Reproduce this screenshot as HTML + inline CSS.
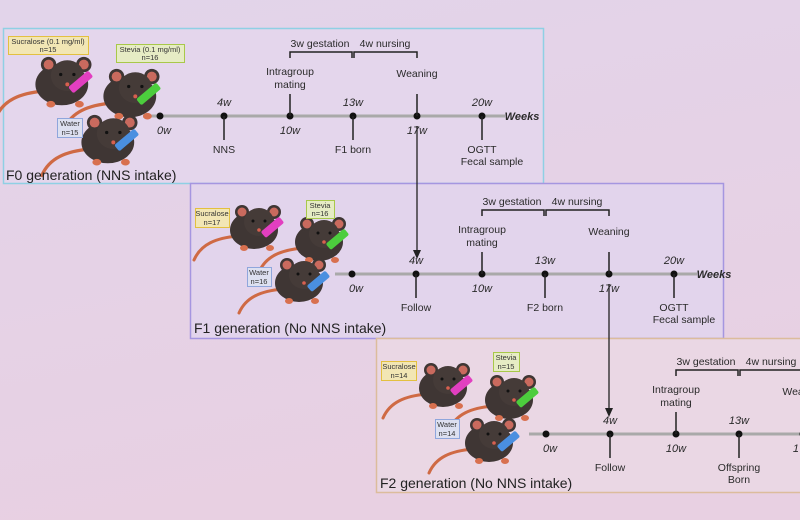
<!DOCTYPE html>
<html><head><meta charset="utf-8"><style>
html,body{margin:0;padding:0;width:800px;height:520px;overflow:hidden}
svg{display:block}
text{font-family:"Liberation Sans",sans-serif;fill:#2a2a2a}
.it{font-style:italic;font-size:11px}
.lb{font-size:10.5px}
.ti{font-size:14px;fill:#222}
.bx{font-size:7.5px;fill:#333}
</style></head><body>
<svg width="800" height="520" viewBox="0 0 800 520" xmlns="http://www.w3.org/2000/svg">
<defs>
<linearGradient id="bg" x1="0" y1="0" x2="0.3" y2="1">
<stop offset="0" stop-color="#e2d4ea"/><stop offset="1" stop-color="#e8d0e2"/>
</linearGradient>
<g id="mouse">
<path d="M-18,10 C-40,12 -55,18 -62,34" stroke="#cf6a44" stroke-width="3" fill="none" stroke-linecap="round"/>
<ellipse cx="-2" cy="4" rx="24" ry="19" fill="#3f3634"/>
<ellipse cx="-12" cy="22" rx="4" ry="3" fill="#d8704f"/>
<ellipse cx="14" cy="22" rx="4" ry="3" fill="#d8704f"/>
<circle cx="-14" cy="-14" r="7" fill="#3f3634"/><circle cx="-14" cy="-14" r="4.5" fill="#c96a5e"/>
<circle cx="18" cy="-14" r="7" fill="#3f3634"/><circle cx="18" cy="-14" r="4.5" fill="#c96a5e"/>
<ellipse cx="3" cy="-4" rx="15" ry="14" fill="#453b38"/>
<circle cx="-3" cy="-5" r="1.5" fill="#111"/><circle cx="9" cy="-5" r="1.5" fill="#111"/>
<circle cx="3" cy="4" r="1.8" fill="#d8604f"/>
</g>
</defs>
<rect width="800" height="520" fill="url(#bg)"/>
<rect x="3.5" y="28.5" width="540" height="155" fill="#e4d6ec" stroke="#8fd0e4" stroke-width="1.5"/>
<rect x="190.5" y="183.5" width="533" height="155" fill="#e2d4ec" stroke="#a596e0" stroke-width="1.5"/>
<rect x="376.5" y="338.5" width="430" height="154" fill="#ead7e4" stroke="#dcbc9c" stroke-width="1.5"/>

<g id="tl0">
<line x1="143" y1="116" x2="505" y2="116" stroke="#a9a9a9" stroke-width="3"/>
<g fill="#111"><circle cx="160" cy="116" r="3.5"/><circle cx="224" cy="116" r="3.5"/><circle cx="290" cy="116" r="3.5"/><circle cx="353" cy="116" r="3.5"/><circle cx="417" cy="116" r="3.5"/><circle cx="482" cy="116" r="3.5"/></g>
<g stroke="#222" stroke-width="1.5" fill="none">
<line x1="224" y1="116" x2="224" y2="140"/><line x1="290" y1="116" x2="290" y2="94"/>
<line x1="353" y1="116" x2="353" y2="140"/><line x1="417" y1="116" x2="417" y2="94"/>
<line x1="482" y1="116" x2="482" y2="140"/>
<path d="M290,58 V52 H352 V58 M354,58 V52 H417 V58"/>
</g>
<text class="it" x="160" y="134" text-anchor="middle" dx="4">0w</text>
<text class="it" x="224" y="106" text-anchor="middle">4w</text>
<text class="it" x="290" y="134" text-anchor="middle">10w</text>
<text class="it" x="353" y="106" text-anchor="middle">13w</text>
<text class="it" x="417" y="134" text-anchor="middle">17w</text>
<text class="it" x="482" y="106" text-anchor="middle">20w</text>
<text x="522" y="120" text-anchor="middle" style="font-size:11px;font-weight:bold;font-style:italic">Weeks</text>
<text class="lb" x="320" y="47" text-anchor="middle">3w gestation</text>
<text class="lb" x="385" y="47" text-anchor="middle">4w nursing</text>
<text class="lb" x="290" y="75" text-anchor="middle">Intragroup</text>
<text class="lb" x="290" y="88" text-anchor="middle">mating</text>
<text class="lb" x="417" y="77" text-anchor="middle">Weaning</text>
<text class="lb" x="482" y="153" text-anchor="middle">OGTT</text>
<text class="lb" x="482" y="165" text-anchor="middle" dx="10">Fecal sample</text>
</g>
<text class="lb" x="224" y="153" text-anchor="middle">NNS</text>
<text class="lb" x="353" y="153" text-anchor="middle">F1 born</text>

<g transform="translate(192,158)">
<use href="#tl0"/>
<text class="lb" x="224" y="153" text-anchor="middle">Follow</text>
<text class="lb" x="353" y="153" text-anchor="middle">F2 born</text>
</g>
<g transform="translate(386,318)">
<use href="#tl0"/>
<text class="lb" x="224" y="153" text-anchor="middle">Follow</text>
<text class="lb" x="353" y="153" text-anchor="middle">Offspring</text>
<text class="lb" x="353" y="165" text-anchor="middle">Born</text>
</g>

<g stroke="#222" stroke-width="1.3"><line x1="417" y1="126" x2="417" y2="252"/><line x1="609" y1="284" x2="609" y2="410"/></g>
<path d="M413,250 L417,259 L421,250 Z M605,408 L609,417 L613,408 Z" fill="#222"/>

<g>
<use href="#mouse" transform="translate(64,80) scale(1.1)"/>
<rect x="79" y="70" width="8" height="26" rx="2" fill="#e23fc0" transform="rotate(50 83 80)"/>
<use href="#mouse" transform="translate(132,92) scale(1.1)"/>
<rect x="147" y="82" width="8" height="26" rx="2" fill="#4ccd3d" transform="rotate(50 151 92)"/>
<use href="#mouse" transform="translate(110,138) scale(1.1)"/>
<rect x="125" y="128" width="8" height="26" rx="2" fill="#4a8fe0" transform="rotate(50 129 138)"/>
<rect x="8.5" y="36.5" width="80" height="18" fill="#f2e6b4" stroke="#e3c040"/>
<text class="bx" x="48" y="44" text-anchor="middle">Sucralose (0.1 mg/ml)</text><text class="bx" x="48" y="52" text-anchor="middle">n=15</text>
<rect x="116.5" y="44.5" width="68" height="18" fill="#e6ecc4" stroke="#a8c84a"/>
<text class="bx" x="150" y="52" text-anchor="middle">Stevia (0.1 mg/ml)</text><text class="bx" x="150" y="60" text-anchor="middle">n=16</text>
<rect x="57.5" y="118.5" width="25" height="19" fill="#dde0f0" stroke="#8fa6dc"/>
<text class="bx" x="70" y="126" text-anchor="middle">Water</text><text class="bx" x="70" y="135" text-anchor="middle">n=15</text>
</g>
<text class="ti" x="6" y="180">F0 generation (NNS intake)</text>

<g>
<use href="#mouse" transform="translate(256,226)"/>
<rect x="270" y="216" width="8" height="24" rx="2" fill="#e23fc0" transform="rotate(50 274 226)"/>
<use href="#mouse" transform="translate(321,238)"/>
<rect x="335" y="228" width="8" height="24" rx="2" fill="#4ccd3d" transform="rotate(50 339 238)"/>
<use href="#mouse" transform="translate(301,279)"/>
<rect x="316" y="270" width="8" height="24" rx="2" fill="#4a8fe0" transform="rotate(50 320 280)"/>
<rect x="195.5" y="208.5" width="34" height="19" fill="#f2e6b4" stroke="#e3c040"/>
<text class="bx" x="212" y="216" text-anchor="middle">Sucralose</text><text class="bx" x="212" y="225" text-anchor="middle">n=17</text>
<rect x="306.5" y="200.5" width="28" height="18" fill="#e6ecc4" stroke="#a8c84a"/>
<text class="bx" x="320" y="208" text-anchor="middle">Stevia</text><text class="bx" x="320" y="216" text-anchor="middle">n=16</text>
<rect x="247.5" y="267.5" width="24" height="19" fill="#dde0f0" stroke="#8fa6dc"/>
<text class="bx" x="259" y="275" text-anchor="middle">Water</text><text class="bx" x="259" y="284" text-anchor="middle">n=16</text>
</g>
<text class="ti" x="194" y="333">F1 generation (No NNS intake)</text>

<g>
<use href="#mouse" transform="translate(445,384)"/>
<rect x="459" y="374" width="8" height="24" rx="2" fill="#e23fc0" transform="rotate(50 463 384)"/>
<use href="#mouse" transform="translate(511,396)"/>
<rect x="525" y="386" width="8" height="24" rx="2" fill="#4ccd3d" transform="rotate(50 529 396)"/>
<use href="#mouse" transform="translate(491,439)"/>
<rect x="506" y="430" width="8" height="24" rx="2" fill="#4a8fe0" transform="rotate(50 510 440)"/>
<rect x="381.5" y="361.5" width="35" height="19" fill="#f2e6b4" stroke="#e3c040"/>
<text class="bx" x="399" y="369" text-anchor="middle">Sucralose</text><text class="bx" x="399" y="378" text-anchor="middle">n=14</text>
<rect x="493.5" y="352.5" width="26" height="19" fill="#e6ecc4" stroke="#a8c84a"/>
<text class="bx" x="506" y="360" text-anchor="middle">Stevia</text><text class="bx" x="506" y="369" text-anchor="middle">n=15</text>
<rect x="435.5" y="419.5" width="24" height="19" fill="#dde0f0" stroke="#8fa6dc"/>
<text class="bx" x="447" y="427" text-anchor="middle">Water</text><text class="bx" x="447" y="436" text-anchor="middle">n=14</text>
</g>
<text class="ti" x="380" y="488">F2 generation (No NNS intake)</text>
</svg>
</body></html>
